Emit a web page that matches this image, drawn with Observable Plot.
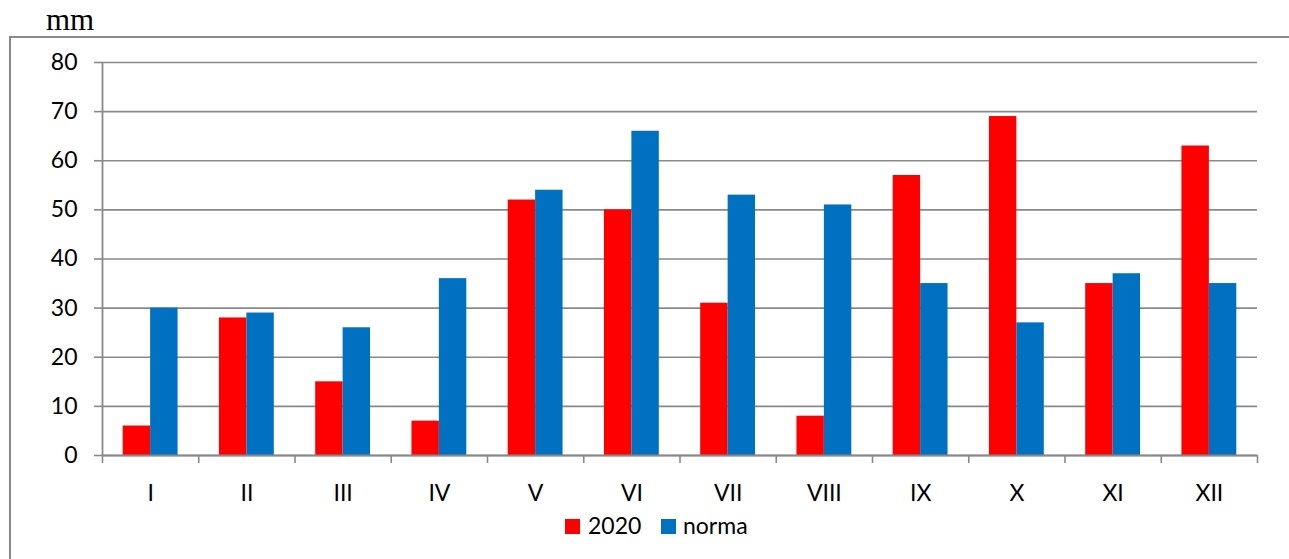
<!DOCTYPE html>
<html><head><meta charset="utf-8">
<script src="https://cdn.jsdelivr.net/npm/d3@7"></script>
<script src="https://cdn.jsdelivr.net/npm/@observablehq/plot@0.6"></script>
<style>
body{margin:0;background:#fff;}
#wrap{position:relative;width:1289px;height:559px;overflow:hidden;background:#fff;}
#border{position:absolute;left:9px;top:36px;width:3000px;height:3000px;border-left:2px solid #8a8a8a;border-top:2px solid #8a8a8a;}
#unit{position:absolute;left:46px;top:4px;font-family:"Liberation Serif",serif;font-size:31px;line-height:31px;color:#000;}
#chart{position:absolute;left:0;top:0;}
#chart svg text{font-family:"Lato",sans-serif !important;}
.leg-sw{position:absolute;width:15px;height:15px;}
.leg-tx{position:absolute;font-family:"Lato",sans-serif;font-size:23px;line-height:23px;color:#000;white-space:nowrap;}
</style></head><body>
<div id="wrap">
<div id="border"></div>
<div id="unit">mm</div>
<div id="chart"></div>
<div id="legend"></div>
</div>
<script>
const months = ["I","II","III","IV","V","VI","VII","VIII","IX","X","XI","XII"];
const values2020 = [6, 28, 15, 7, 52, 50, 31, 8, 57, 69, 35, 63];
const valuesNorma = [30, 29, 26, 36, 54, 66, 53, 51, 35, 27, 37, 35];
const yTicks = [0, 10, 20, 30, 40, 50, 60, 70, 80];
const seriesNames = ["2020", "norma"];
const seriesColors = ["#FF0000", "#0070C0"];

const rows = months.flatMap((m, i) => [
  {i, month: m, series: seriesNames[0], k: 0, value: values2020[i]},
  {i, month: m, series: seriesNames[1], k: 1, value: valuesNorma[i]}
]);
const barStart = 0.215, barW = 0.285;
const grid = "#898989";
const font = "Lato";

const chart = Plot.plot({
  width: 1289, height: 559,
  marginTop: 62, marginLeft: 102, marginRight: 32, marginBottom: 104,
  style: {fontFamily: font, fontSize: "23px", color: "#000", background: "transparent"},
  x: {domain: [0, 12]},
  y: {domain: [0, 80]},
  color: {domain: seriesNames, range: seriesColors},
  marks: [
    Plot.ruleY(yTicks, {stroke: grid, strokeWidth: 1.6}),
    Plot.rectY(rows, {
      x1: d => d.i + barStart + d.k * barW,
      x2: d => d.i + barStart + (d.k + 1) * barW,
      y1: 0, y2: "value", fill: "series"
    }),
    Plot.ruleY([0], {stroke: grid, strokeWidth: 1.8}),
    Plot.ruleX([0], {stroke: grid, strokeWidth: 1.8}),
    Plot.axisY({ticks: yTicks, tickSize: 8, tickPadding: 17, stroke: grid, strokeWidth: 1.6, fill: "#000", fontFamily: font, label: null}),
    Plot.axisX({ticks: d3.range(13), tickSize: 8, stroke: grid, strokeWidth: 1.6, tickFormat: () => "", label: null}),
    Plot.axisX({ticks: months.map((m, i) => i + 0.5), tickSize: 0, tickPadding: 29, tickFormat: v => months[Math.floor(v)], fill: "#000", fontFamily: font, label: null})
  ]
});
document.getElementById("chart").appendChild(chart);

const legend = document.getElementById("legend");
const legPos = [{sw: 565, tx: 588}, {sw: 661, tx: 683}];
seriesNames.forEach((s, j) => {
  const sw = document.createElement("div");
  sw.className = "leg-sw";
  sw.style.left = legPos[j].sw + "px"; sw.style.top = "519px";
  sw.style.background = seriesColors[j];
  legend.appendChild(sw);
  const tx = document.createElement("div");
  tx.className = "leg-tx";
  tx.style.left = legPos[j].tx + "px"; tx.style.top = "514px";
  tx.textContent = s;
  legend.appendChild(tx);
});
</script>
</body></html>
